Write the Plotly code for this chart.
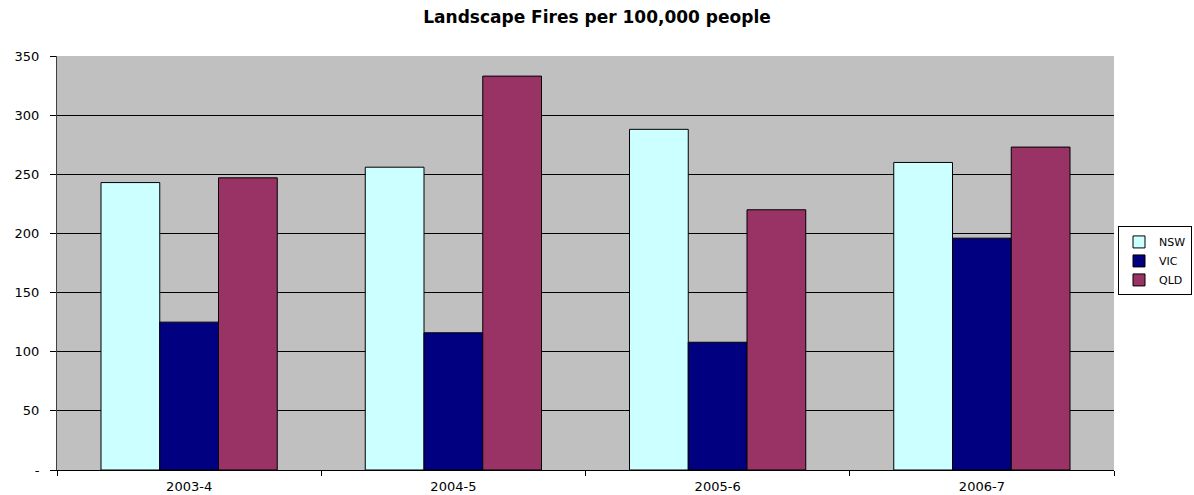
import plotly.graph_objects as go

categories = ["2003-4", "2004-5", "2005-6", "2006-7"]
nsw = [243, 256, 288, 260]
vic = [125, 116, 108, 196]
qld = [247, 333, 220, 273]
tick_vals = [0, 50, 100, 150, 200, 250, 300, 350]
tick_text = ["-", "50", "100", "150", "200", "250", "300", "350"]

FONT = "DejaVu Sans, Arial, sans-serif"

fig = go.Figure()
for name, vals, col in [("NSW", nsw, "#CCFFFF"), ("VIC", vic, "#000080"), ("QLD", qld, "#993366")]:
    fig.add_trace(go.Bar(name=name, x=categories, y=vals, marker=dict(color=col, line=dict(color="black", width=1))))

fig.update_layout(
    width=1194, height=495,
    margin=dict(l=57, r=80, t=56, b=25, autoexpand=False),
    barmode="group", bargap=0.333, bargroupgap=0,
    paper_bgcolor="white", plot_bgcolor="#C0C0C0",
    font=dict(family=FONT, size=13, color="black"),
    title=dict(text="<b>Landscape Fires per 100,000 people</b>", x=0.5, xanchor="center",
               y=1 - 17 / 495, yanchor="middle", font=dict(size=17, family=FONT)),
    legend=dict(x=1.0738, xanchor="right", y=0.505, yanchor="middle",
                bordercolor="black", borderwidth=1, bgcolor="white",
                font=dict(size=11), itemwidth=30, tracegroupgap=0,
                itemclick=False),
    showlegend=True,
)
fig.update_yaxes(range=[0, 350], tickvals=tick_vals, ticktext=tick_text,
                 showgrid=True, gridcolor="black", gridwidth=1,
                 showline=True, linecolor="#404040", linewidth=1,
                 ticks="outside", ticklen=6, tickcolor="black", zeroline=False,
                 ticklabelstandoff=8)
fig.update_xaxes(type="category", showline=True, linecolor="black", linewidth=1,
                 ticks="outside", tickson="boundaries", ticklen=5, tickcolor="black",
                 showgrid=False, mirror=False, ticklabelstandoff=4)
fig.write_html("out.html")
